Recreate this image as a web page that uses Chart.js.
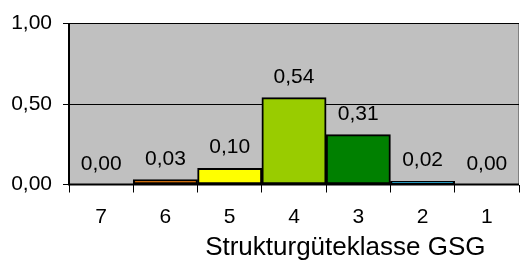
<!DOCTYPE html>
<html>
<head>
<meta charset="utf-8">
<script src="https://cdn.jsdelivr.net/npm/chart.js@4"></script>
<style>
html,body{margin:0;padding:0;background:#fff;}
#wrap{width:520px;height:262px;position:relative;}
</style>
</head>
<body>
<div id="wrap"><canvas id="c" width="520" height="262"></canvas></div>
<script>
const categories = ['7', '6', '5', '4', '3', '2', '1'];
const values = [0.00, 0.03, 0.10, 0.54, 0.31, 0.02, 0.00];
const barColors = ['#FF0000', '#FF8000', '#FFFF00', '#99CC00', '#008000', '#0099CC', '#0000FF'];
const yTicks = [0, 0.5, 1];
const axisTitle = 'Strukturgüteklasse GSG';

const FONT = "'Liberation Sans', Arial, sans-serif";
const fmt = v => v.toFixed(2).replace('.', ',');

const plotBg = {
  id: 'plotBg',
  beforeDraw(chart) {
    const {ctx, chartArea: a} = chart;
    ctx.save();
    ctx.fillStyle = '#C0C0C0';
    ctx.fillRect(a.left, a.top, a.right - a.left, a.bottom - a.top);
    ctx.strokeStyle = '#808080';
    ctx.lineWidth = 1;
    ctx.beginPath();
    ctx.moveTo(a.right - 0.5, a.top);
    ctx.lineTo(a.right - 0.5, a.bottom);
    ctx.stroke();
    ctx.restore();
  },
  afterDraw(chart) {
    const {ctx, chartArea: a} = chart;
    ctx.save();
    ctx.strokeStyle = '#000';
    ctx.lineWidth = 2;
    ctx.beginPath();
    ctx.moveTo(a.left, a.top);
    ctx.lineTo(a.left, a.bottom);
    ctx.lineTo(a.right, a.bottom);
    ctx.stroke();
    ctx.fillStyle = '#000';
    ctx.font = '21px ' + FONT;
    ctx.textAlign = 'center';
    ctx.textBaseline = 'alphabetic';
    const meta = chart.getDatasetMeta(0);
    meta.data.forEach((bar, i) => {
      ctx.fillText(fmt(values[i]), bar.x, bar.y - 15);
    });
    ctx.font = '26px ' + FONT;
    ctx.textAlign = 'center';
    ctx.fillText(axisTitle, a.left + (a.right - a.left) * 0.614, 255);
    ctx.restore();
  }
};

new Chart(document.getElementById('c'), {
  type: 'bar',
  data: {
    labels: categories,
    datasets: [{
      data: values,
      backgroundColor: barColors,
      borderColor: '#000',
      borderWidth: values.map(v => v > 0 ? 2 : 0),
      borderSkipped: false,
      categoryPercentage: 1,
      barPercentage: 1
    }]
  },
  options: {
    responsive: false,
    animation: false,
    devicePixelRatio: 1,
    layout: {padding: {top: 17, right: 1, left: 0, bottom: 0}},
    plugins: {legend: {display: false}, tooltip: {enabled: false}},
    scales: {
      x: {
        grid: {display: true, drawOnChartArea: false, drawTicks: true, tickLength: 8, color: '#000', lineWidth: 1, offset: true},
        border: {display: false},
        ticks: {color: '#000', font: {family: FONT, size: 21}, padding: 12, maxRotation: 0},
        afterFit(s) { s.height = 77.5; }
      },
      y: {
        min: 0, max: 1,
        afterBuildTicks(s) { s.ticks = yTicks.map(v => ({value: v})); },
        grid: {color: '#000', lineWidth: 1, tickLength: 6, drawTicks: true},
        border: {display: false},
        ticks: {color: '#000', font: {family: FONT, size: 21}, padding: 11, callback: v => fmt(v)},
        afterFit(s) { s.width = 69; }
      }
    }
  },
  plugins: [plotBg]
});
</script>
</body>
</html>
